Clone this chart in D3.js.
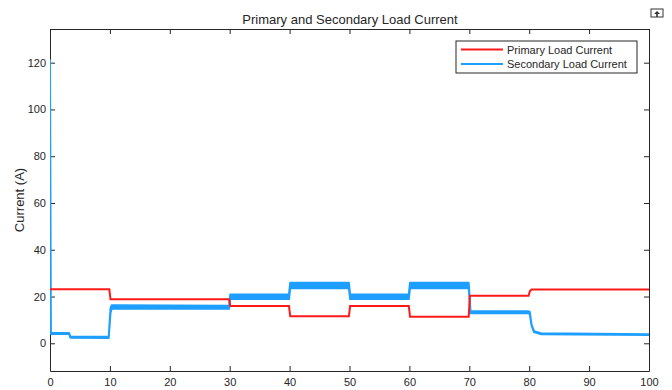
<!DOCTYPE html>
<html>
<head>
<meta charset="utf-8">
<script src="https://cdn.jsdelivr.net/npm/d3@7"></script>
<style>
  body { margin: 0; background: #fff; }
  text { font-family: "Liberation Sans", Arial, Helvetica, sans-serif; fill: #262626; }
</style>
</head>
<body>
<div id="chart"></div>
<script>

// time (s) and currents (A)
var primaryTime    = [0, 9.9, 10.1, 29.9, 30.1, 39.9, 40.1, 49.9, 50.1, 59.9, 60.1, 69.9, 70.1, 79.9, 80.1, 80.4, 100];
var primaryCurrent = [23.1, 23.1, 18.8, 18.8, 15.9, 15.9, 11.6, 11.6, 15.9, 15.9, 11.4, 11.4, 20.3, 20.3, 22.2, 23.0, 23.0];

// secondary current is noisy, keep lower / upper envelope of the band
var secondaryTime = [0, 0.15, 3.2, 3.4, 9.8, 10.1, 10.3, 29.9, 30.1, 39.9, 40.1, 49.9, 50.1, 59.9, 60.1, 69.9, 70.2, 79.9, 80.1, 80.4, 80.8, 82, 100];
var secondaryLow  = [121, 4.0, 4.0, 2.4, 2.3, 13.0, 14.8, 14.8, 18.9, 18.9, 23.5, 23.5, 18.9, 18.9, 23.5, 23.5, 12.8, 12.8, 12.4, 7.5, 4.8, 3.9, 3.5];
var secondaryHigh = [121, 4.4, 4.4, 2.8, 2.8, 15.0, 16.3, 16.1, 20.9, 20.9, 25.9, 25.9, 20.9, 20.9, 25.9, 25.9, 13.8, 13.7, 13.4, 8.0, 5.2, 4.3, 3.9];

var xTicks = [0, 10, 20, 30, 40, 50, 60, 70, 80, 90, 100];
var yTicks = [0, 20, 40, 60, 80, 100, 120];

var seriesNames = ['Primary Load Current', 'Secondary Load Current'];
var seriesColors = ['#ff1a1a', '#1e9fff'];

var width = 672, height = 390;
var margin = {left: 50, right: 23, top: 29, bottom: 19};
var plotW = width - margin.left - margin.right,
    plotH = height - margin.top - margin.bottom;

var svg = d3.select('#chart').append('svg')
    .attr('width', width)
    .attr('height', height);

var x = d3.scaleLinear().domain([0, 100]).range([0, plotW]);
var y = d3.scaleLinear().domain([-11.85, 134.4]).range([plotH, 0]);

var g = svg.append('g').attr('transform', 'translate(' + margin.left + ',' + margin.top + ')');

g.append('clipPath').attr('id', 'clip')
    .append('rect').attr('x', 0).attr('y', 0).attr('width', plotW).attr('height', plotH);

// axes (ticks inside, box on)
function styleAxis(sel) {
    sel.selectAll('path, line').attr('stroke', '#262626');
    sel.selectAll('text').style('font-size', '11px').attr('fill', '#262626');
}

g.append('g').attr('transform', 'translate(0,' + plotH + ')')
    .call(d3.axisBottom(x).tickValues(xTicks).tickSizeInner(-5).tickSizeOuter(0).tickPadding(7))
    .call(styleAxis);
g.append('g')
    .call(d3.axisTop(x).tickValues(xTicks).tickSizeInner(-5).tickSizeOuter(0).tickFormat(''))
    .call(styleAxis);
g.append('g')
    .call(d3.axisLeft(y).tickValues(yTicks).tickSizeInner(-5).tickSizeOuter(0).tickPadding(4))
    .call(styleAxis);
g.append('g').attr('transform', 'translate(' + plotW + ',0)')
    .call(d3.axisRight(y).tickValues(yTicks).tickSizeInner(-5).tickSizeOuter(0).tickFormat(''))
    .call(styleAxis);

// lines
var lines = g.append('g').attr('clip-path', 'url(#clip)');

var primary = primaryTime.map(function(t, i){ return {t: t, v: primaryCurrent[i]}; });
var secondary = secondaryTime.map(function(t, i){ return {t: t, lo: secondaryLow[i], hi: secondaryHigh[i]}; });

lines.append('path')
    .datum(secondary)
    .attr('d', d3.area().x(function(d){ return x(d.t); })
        .y0(function(d){ return y(d.lo); })
        .y1(function(d){ return y(d.hi); }))
    .attr('fill', seriesColors[1])
    .attr('stroke', seriesColors[1])
    .attr('stroke-width', 2)
    .attr('stroke-linejoin', 'round');

lines.append('path')
    .datum(primary)
    .attr('d', d3.line().x(function(d){ return x(d.t); }).y(function(d){ return y(d.v); }))
    .attr('fill', 'none')
    .attr('stroke', seriesColors[0])
    .attr('stroke-width', 2);

// title & label
svg.append('text')
    .attr('x', 350).attr('y', 24)
    .attr('text-anchor', 'middle')
    .style('font-size', '13px')
    .text('Primary and Secondary Load Current');

svg.append('text')
    .attr('transform', 'translate(24,' + (margin.top + plotH / 2) + ') rotate(-90)')
    .attr('text-anchor', 'middle')
    .style('font-size', '13px')
    .text('Current (A)');

// legend
var legend = svg.append('g').attr('transform', 'translate(456,41)');
legend.append('rect')
    .attr('width', 181).attr('height', 32)
    .attr('fill', '#fff').attr('stroke', '#262626');
var entry = legend.selectAll('.entry')
    .data(seriesNames).enter()
    .append('g').attr('class', 'entry')
    .attr('transform', function(d, i){ return 'translate(0,' + (8.5 + i * 14.5) + ')'; });
entry.append('line')
    .attr('x1', 5).attr('x2', 47)
    .attr('stroke', function(d, i){ return seriesColors[i]; })
    .attr('stroke-width', 2);
entry.append('text')
    .attr('x', 51).attr('y', 4)
    .style('font-size', '11px')
    .text(function(d){ return d; });

// small toolbar icon, top right
var icon = svg.append('g').attr('transform', 'translate(651,9)');
icon.append('rect').attr('width', 12).attr('height', 8)
    .attr('fill', '#fff').attr('stroke', '#333');
icon.append('path').attr('d', 'M3,5 L6,2 L9,5 Z M5.2,5 V8 H6.8 V5 Z').attr('fill', '#333');

</script>
</body>
</html>
